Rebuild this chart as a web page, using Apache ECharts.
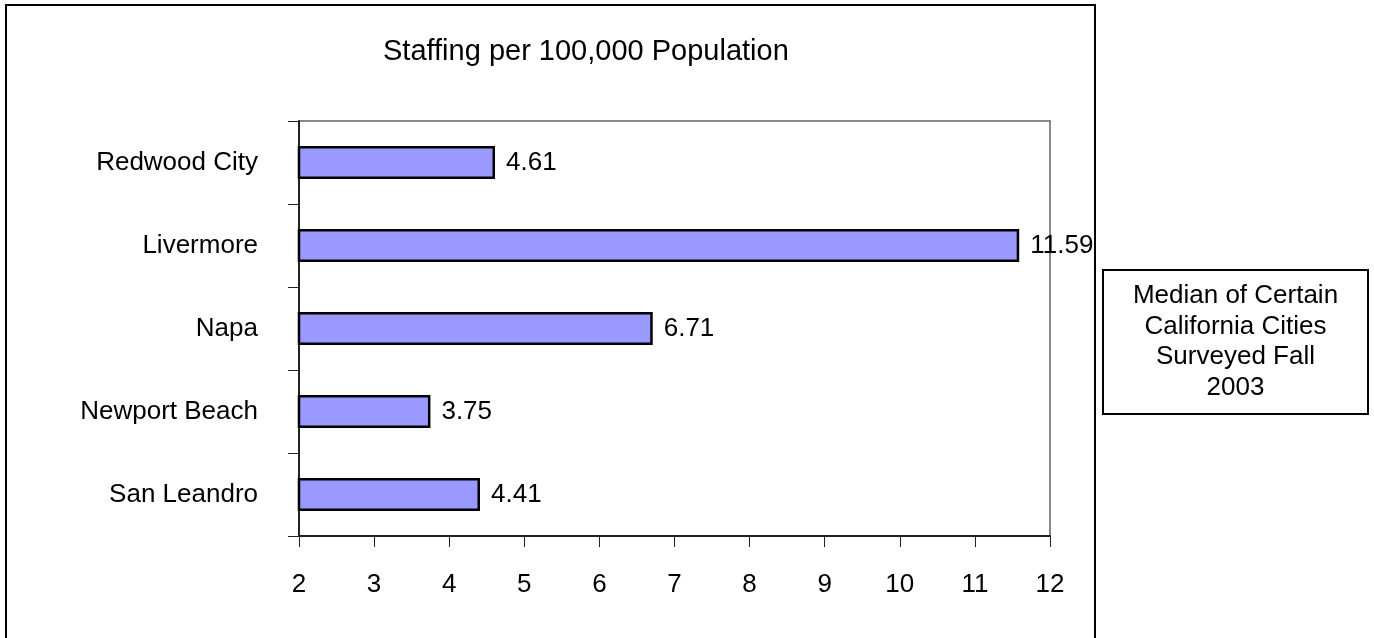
<!DOCTYPE html>
<html>
<head>
<meta charset="utf-8">
<script src="https://cdn.jsdelivr.net/npm/echarts@6/dist/echarts.min.js"></script>
<style>html,body{margin:0;padding:0;background:#fff}#c{width:1374px;height:638px}</style>
</head>
<body>
<div id="c"></div>
<script>
const titleText = 'Staffing per 100,000 Population';
const categories = ['Redwood City', 'Livermore', 'Napa', 'Newport Beach', 'San Leandro'];
const values = [4.61, 11.59, 6.71, 3.75, 4.41];
const xMin = 2, xMax = 12, xInterval = 1;
const noteLines = ['Median of Certain', 'California Cities', 'Surveyed Fall', '2003'];

const FONT = '"Liberation Sans", Arial, sans-serif';
const chart = echarts.init(document.getElementById('c'), null, {renderer: 'canvas'});
chart.setOption({
  animation: false,
  backgroundColor: '#fff',
  title: {
    text: titleText, left: 383, top: 37, padding: 0,
    textStyle: {fontFamily: FONT, fontSize: 29, fontWeight: 'normal', color: '#000'}
  },
  grid: {
    left: 299, right: 324, top: 121, bottom: 102,
    show: true, borderColor: '#888', borderWidth: 2, backgroundColor: 'transparent'
  },
  xAxis: {
    type: 'value', min: xMin, max: xMax, interval: xInterval,
    splitLine: {show: false},
    axisLine: {show: true, lineStyle: {color: '#222', width: 2}},
    axisTick: {show: true, length: 11, lineStyle: {color: '#222', width: 1}},
    axisLabel: {fontFamily: FONT, fontSize: 26, color: '#000', margin: 36}
  },
  yAxis: {
    type: 'category', data: categories, inverse: true,
    axisLine: {show: true, lineStyle: {color: '#222', width: 2}},
    axisTick: {show: true, length: 11, alignWithLabel: false, lineStyle: {color: '#222', width: 1}},
    axisLabel: {fontFamily: FONT, fontSize: 26, color: '#000', margin: 41}
  },
  series: [{
    type: 'bar', data: values, barWidth: 33, clip: true,
    itemStyle: {color: '#9999FF', borderColor: '#000', borderWidth: 2.5},
    label: {
      show: true, position: 'right', distance: 11,
      fontFamily: FONT, fontSize: 26, color: '#000',
      formatter: p => p.value.toFixed(2)
    }
  }],
  graphic: [
    {type: 'rect', shape: {x: 6, y: 5, width: 1089, height: 700},
     style: {fill: 'none', stroke: '#000', lineWidth: 2}, z: 100},
    {type: 'rect', shape: {x: 1103, y: 270, width: 265, height: 144},
     style: {fill: '#fff', stroke: '#000', lineWidth: 2}, z: 100},
    {type: 'text', x: 1235.5, y: 342, z: 101,
     style: {text: noteLines.join('\n'), fontFamily: FONT, fontSize: 26, lineHeight: 30.5,
             fill: '#000', align: 'center', verticalAlign: 'middle'}}
  ]
});
</script>
</body>
</html>
